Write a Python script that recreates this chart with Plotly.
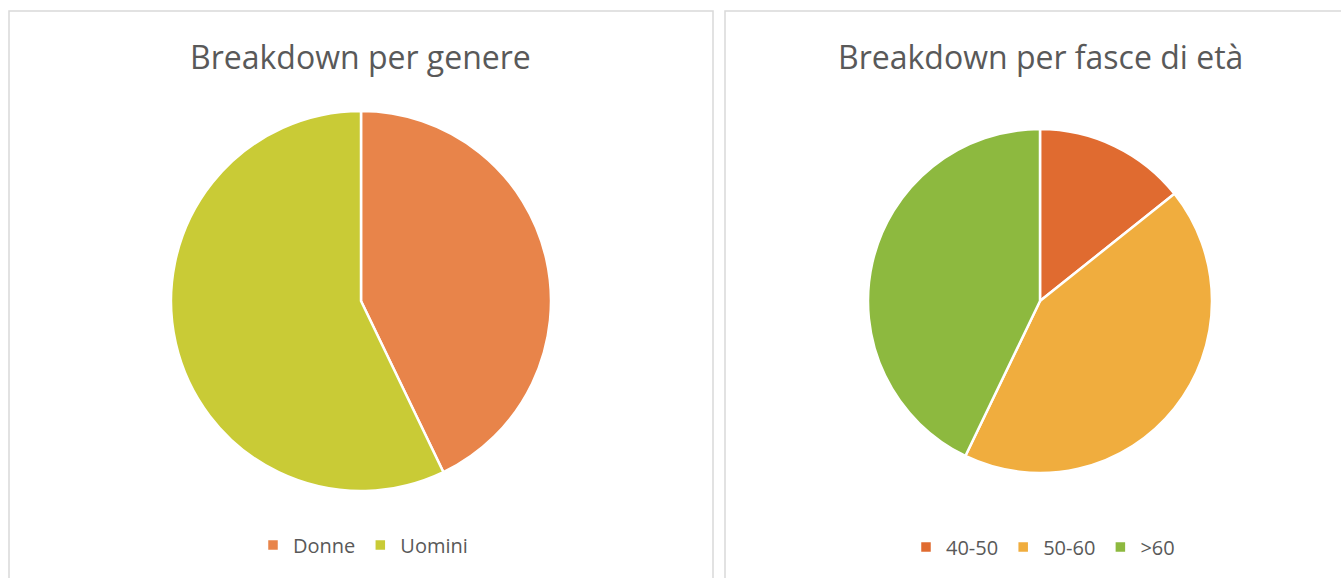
import plotly.graph_objects as go

W, H = 1341, 578

gender_labels = ["Donne", "Uomini"]
gender_values = [3, 4]
gender_colors = ["#E8844A", "#C9CB36"]

age_labels = ["40-50", "50-60", ">60"]
age_values = [1, 3, 3]
age_colors = ["#E06B30", "#F0AD3E", "#8DB93F"]

title_left = "Breakdown per genere"
title_right = "Breakdown per fasce di età"

FONT = "Open Sans"
GREY = "#595959"

def px_x(x):
    return x / W

def px_y(y):
    return 1 - y / H

fig = go.Figure()
fig.add_trace(go.Pie(
    labels=gender_labels, values=gender_values, sort=False, direction="clockwise",
    rotation=0, textinfo="none", hoverinfo="label+value+percent",
    marker=dict(colors=gender_colors, line=dict(color="white", width=2.5)),
    domain=dict(x=[px_x(171), px_x(551)], y=[px_y(491), px_y(111)]),
    legend="legend",
))
fig.add_trace(go.Pie(
    labels=age_labels, values=age_values, sort=False, direction="clockwise",
    rotation=0, textinfo="none", hoverinfo="label+value+percent",
    marker=dict(colors=age_colors, line=dict(color="white", width=2.5)),
    domain=dict(x=[px_x(868), px_x(1212)], y=[px_y(473), px_y(129)]),
    legend="legend2",
))

legend_common = dict(orientation="h", xanchor="center", yanchor="middle",
                     font=dict(family=FONT, size=20, color=GREY),
                     bgcolor="rgba(0,0,0,0)", itemclick=False, itemdoubleclick=False)

fig.update_layout(
    width=W, height=H,
    margin=dict(l=0, r=0, t=0, b=0),
    paper_bgcolor="white", plot_bgcolor="white",
    font=dict(family=FONT, color=GREY),
    legend=dict(x=px_x(363), y=px_y(545), **legend_common),
    legend2=dict(x=px_x(1043), y=px_y(547), **legend_common),
    shapes=[
        dict(type="rect", xref="paper", yref="paper", x0=px_x(9), x1=px_x(713),
             y0=-0.05, y1=px_y(11), line=dict(color="#D9D9D9", width=1.5)),
        dict(type="rect", xref="paper", yref="paper", x0=px_x(725), x1=1.05,
             y0=-0.05, y1=px_y(11), line=dict(color="#D9D9D9", width=1.5)),
    ],
    annotations=[
        dict(text=title_left, x=px_x(361), y=px_y(57), xref="paper", yref="paper",
             showarrow=False, xanchor="center", yanchor="middle",
             font=dict(family=FONT, size=32, color=GREY)),
        dict(text=title_right, x=px_x(1040), y=px_y(57), xref="paper", yref="paper",
             showarrow=False, xanchor="center", yanchor="middle",
             font=dict(family=FONT, size=32, color=GREY)),
    ],
)

fig.write_html("out.html", config={"displayModeBar": False},
               post_script="document.body.style.margin='0';document.body.style.overflow='hidden';")
